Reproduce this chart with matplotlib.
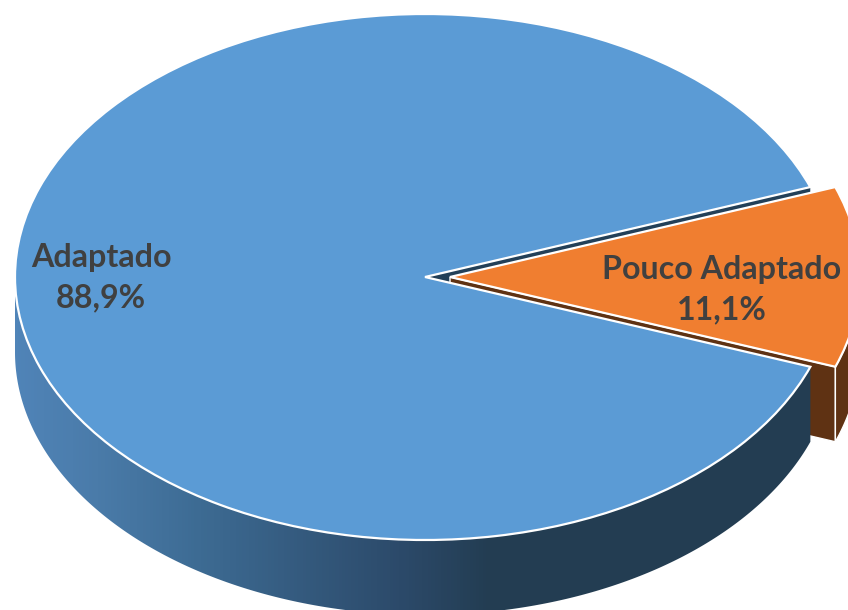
import numpy as np
import matplotlib.pyplot as plt
from matplotlib.colors import LinearSegmentedColormap
from matplotlib.patches import Polygon

labels = ['Adaptado', 'Pouco Adaptado']
values = [88.9, 11.1]
value_text = ['88,9%', '11,1%']
colors = ['#5B9BD5', '#F07E30']

# picture geometry in pixels
W, H = 848, 610
cx, cy = 425, 277
rx, ry = 410, 263
depth = 75 / ry
shift = 25 / rx

start = 20
blue_span = 360 * values[0] / sum(values)
end = start + blue_span


def arc(a0, a1, dx=0.0, n=300):
    t = np.radians(np.linspace(a0, a1, n))
    return np.cos(t) + dx, np.sin(t)


plt.rcParams['font.family'] = ['Lato', 'DejaVu Sans']
fig = plt.figure(figsize=(W / 100, H / 100), dpi=100)
ax = fig.add_axes([0, 0, 1, 1])

ax.pie(values, colors=colors, startangle=start, explode=[0, shift], radius=1,
       wedgeprops={'edgecolor': 'white', 'linewidth': 1.6, 'zorder': 5}, frame=True)

# cut face of the big slice, seen through the gap
up = np.radians(start)
ax.add_patch(Polygon([(0, 0), (np.cos(up), np.sin(up)), (np.cos(up), np.sin(up) - depth), (0, -depth)],
                     fc='#234058', ec='none', zorder=1))

# orange slice walls
low = np.radians(end)
lx, ly = np.cos(low) + shift, np.sin(low)
ax.add_patch(Polygon([(shift, 0), (lx, ly), (lx, ly - depth), (shift, -depth)],
                     fc='#5F3213', ec='white', lw=1.0, zorder=2))
xo, yo = arc(end, 360 + start, shift)
ax.add_patch(Polygon(np.r_[np.c_[xo, yo], np.c_[xo, yo - depth][::-1]],
                     fc='#5F3213', ec='white', lw=1.0, zorder=2))

# big slice outer wall, gradient from left to right
grad = LinearSegmentedColormap.from_list('side', [(0, '#5084B8'), (0.1, '#4A7BA9'), (0.225, '#3D6B93'),
                                                  (0.47, '#2C4A6A'), (0.58, '#233D52'), (1, '#233D52')])
xb, yb = arc(180, end)
wall = Polygon(np.r_[np.c_[xb, yb], np.c_[xb, yb - depth][::-1]], fc='none', ec='none', transform=ax.transData)
ax.add_patch(wall)
img = ax.imshow(np.linspace(0, 1, 256).reshape(1, -1), cmap=grad, aspect='auto', zorder=3,
                extent=(-1, 1, -2, 1.2))
img.set_clip_path(wall)

ax.text((101 - cx) / rx, (cy - 257) / ry, labels[0], ha='center', va='center', fontsize=23.2,
        fontweight='bold', color='#404040', zorder=6)
ax.text((101 - cx) / rx, (cy - 298) / ry, value_text[0], ha='center', va='center', fontsize=23.2,
        fontweight='bold', color='#404040', zorder=6)
ax.text((722 - cx) / rx, (cy - 269) / ry, labels[1], ha='center', va='center', fontsize=23.2,
        fontweight='bold', color='#404040', zorder=6)
ax.text((722 - cx) / rx, (cy - 310) / ry, value_text[1], ha='center', va='center', fontsize=23.2,
        fontweight='bold', color='#404040', zorder=6)

ax.set_aspect('auto')
ax.set_xlim(-cx / rx, (W - cx) / rx)
ax.set_ylim((cy - H) / ry, cy / ry)
ax.axis('off')
fig.savefig('out.png', dpi=100)
